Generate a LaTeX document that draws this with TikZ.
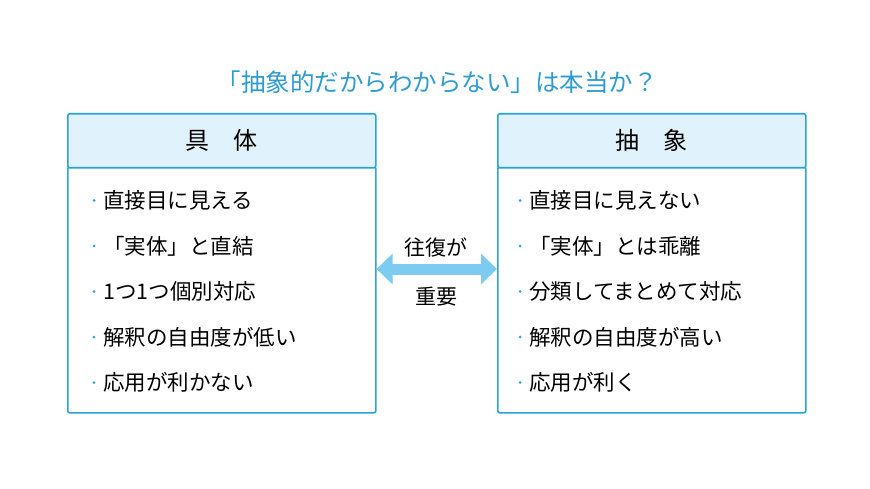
\documentclass[tikz,border=0pt]{standalone}
\usepackage{fontspec}
\setmainfont{Noto Sans CJK JP}
\usetikzlibrary{arrows.meta, positioning}
\definecolor{frameblue}{HTML}{2AA3DA}
\definecolor{headfill}{HTML}{E0F2FB}
\definecolor{titleblue}{HTML}{2E9BD2}
\definecolor{arrowblue}{HTML}{7DCBF0}
\tikzset{
    header/.style={rectangle, draw=frameblue, line width=1.6pt, fill=headfill, rounded corners=2pt, minimum width=308pt, minimum height=54pt, font=\fontsize{24}{24}\selectfont},
    body/.style={rectangle, draw=frameblue, line width=1.6pt, fill=white, rounded corners=2pt, minimum width=308pt, minimum height=246pt},
    item/.style={anchor=west, font=\fontsize{21.5}{22}\selectfont, inner sep=0pt},
    dot/.style={circle, fill=frameblue, minimum size=3pt, inner sep=0pt},
    label/.style={font=\fontsize{21}{21}\selectfont},
    arrow/.style={{Triangle[length=16pt,width=30pt]}-{Triangle[length=16pt,width=30pt]}, line width=11pt, draw=arrowblue}
}
\begin{document}
\begin{tikzpicture}[x=1pt, y=1pt]
    \useasboundingbox (0,0) rectangle (870,-489);
    % Title
    \node[text=titleblue, font=\fontsize{24.5}{25}\selectfont] (title) at (437,-82) {「抽象的だからわからない」は本当か？};

    % Left box
    \node[body, anchor=north west] (left_body) at (67,-166) {};
    \node[header, anchor=north west] (left_header) at (67,-113) {具\hspace{1em}体};
    \foreach \txt [count=\i] in {直接目に見える, 「実体」と直結, 1つ1つ個別対応, 解釈の自由度が低い, 応用が利かない} {
        \node[dot] (ldot\i) at (94,{-155-45.5*\i}) {};
        \node[item] (litem\i) at (103,{-155-45.5*\i}) {\txt};
    }

    % Right box
    \node[body, anchor=north west] (right_body) at (497,-166) {};
    \node[header, anchor=north west] (right_header) at (497,-113) {抽\hspace{1em}象};
    \foreach \txt [count=\i] in {直接目に見えない, 「実体」とは乖離, 分類してまとめて対応, 解釈の自由度が高い, 応用が利く} {
        \node[dot] (rdot\i) at (520,{-155-45.5*\i}) {};
        \node[item] (ritem\i) at (529,{-155-45.5*\i}) {\txt};
    }

    % Arrow
    \draw[arrow] (left_body.east |- 0,-269) -- (right_body.west |- 0,-269);
    \node[label] (upper) at (436,-247) {往復が};
    \node[label] (lower) at (436,-297) {重要};
\end{tikzpicture}
\end{document}
